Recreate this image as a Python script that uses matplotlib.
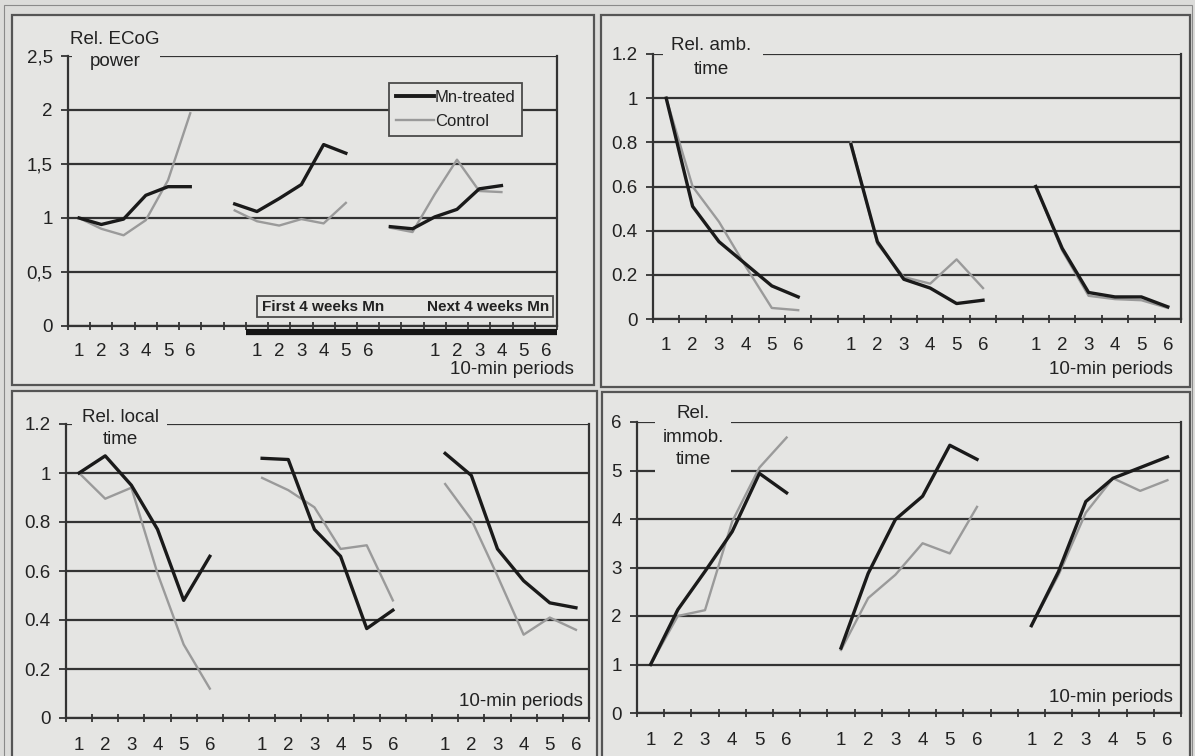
"""Four-panel figure: relative ECoG power and open-field times, Mn-treated vs control.

Each panel shows three sessions of six 10-min periods.
"""
import numpy as np
import matplotlib
matplotlib.use("Agg")
import matplotlib.pyplot as plt
from matplotlib.patches import Rectangle
from matplotlib.lines import Line2D

plt.rcParams["font.family"] = ["Liberation Sans", "DejaVu Sans"]

# ---- data ---------------------------------------------------------------
periods = ["1", "2", "3", "4", "5", "6"]

ecog_mn = [[1.00, 0.94, 0.99, 1.21, 1.29, 1.29],
           [1.13, 1.06, 1.18, 1.31, 1.68, 1.60],
           [0.92, 0.90, 1.01, 1.08, 1.27, 1.30]]
ecog_ctrl = [[1.00, 0.90, 0.84, 0.98, 1.35, 1.97],
             [1.07, 0.97, 0.93, 0.99, 0.95, 1.14],
             [0.91, 0.87, 1.22, 1.54, 1.25, 1.24]]

amb_mn = [[1.00, 0.51, 0.35, 0.25, 0.15, 0.10],
          [0.79, 0.35, 0.18, 0.14, 0.07, 0.085],
          [0.60, 0.32, 0.12, 0.10, 0.10, 0.055]]
amb_ctrl = [[1.00, 0.60, 0.44, 0.24, 0.05, 0.04],
            [0.80, 0.34, 0.19, 0.16, 0.27, 0.14],
            [0.60, 0.31, 0.105, 0.09, 0.085, 0.05]]

local_mn = [[1.00, 1.07, 0.95, 0.77, 0.48, 0.66],
            [1.06, 1.055, 0.77, 0.66, 0.365, 0.44],
            [1.08, 0.99, 0.69, 0.56, 0.47, 0.45]]
local_ctrl = [[1.00, 0.895, 0.94, 0.59, 0.30, 0.12],
              [0.98, 0.93, 0.86, 0.69, 0.705, 0.48],
              [0.955, 0.81, 0.58, 0.34, 0.41, 0.36]]

immob_mn = [[1.00, 2.13, 2.92, 3.74, 4.94, 4.54],
            [1.34, 2.88, 3.99, 4.47, 5.52, 5.23],
            [1.80, 2.92, 4.36, 4.84, 5.06, 5.28]]
immob_ctrl = [[1.00, 2.00, 2.12, 3.95, 5.06, 5.68],
              [1.30, 2.37, 2.85, 3.50, 3.29, 4.25],
              [1.80, 2.85, 4.13, 4.84, 4.58, 4.80]]

ecog_yticks = [0, 0.5, 1, 1.5, 2, 2.5]
ecog_yticklabels = ["0", "0,5", "1", "1,5", "2", "2,5"]
time_yticks = [0, 0.2, 0.4, 0.6, 0.8, 1, 1.2]
time_yticklabels = ["0", "0.2", "0.4", "0.6", "0.8", "1", "1.2"]
immob_yticks = [0, 1, 2, 3, 4, 5, 6]
immob_yticklabels = ["0", "1", "2", "3", "4", "5", "6"]

# ---- styling --------------------------------------------------------------
W, H = 1195, 756
FIG_BG = "#dcdcda"
PANEL_BG = "#e5e5e3"
AX_COL = "#333333"
MN_COL = "#1a1a1a"
CTRL_COL = "#9a9a9a"
FS = 13.5

fig = plt.figure(figsize=(W / 100, H / 100), dpi=100, facecolor=FIG_BG)


def frect(x0, y0, x1, y1):
    """pixel box (top-left origin) -> figure fraction rect"""
    return [x0 / W, 1 - y1 / H, (x1 - x0) / W, (y1 - y0) / H]


def box(x0, y0, x1, y1, face=PANEL_BG, edge="none", lw=1.2, z=1):
    l, b, w, h = frect(x0, y0, x1, y1)
    fig.add_artist(Rectangle((l, b), w, h, transform=fig.transFigure,
                             facecolor=face, edgecolor=edge, lw=lw, zorder=z))


def ftext(x, y, s, **kw):
    kw.setdefault("fontsize", FS)
    kw.setdefault("color", "#222222")
    fig.text(x / W, 1 - y / H, s, zorder=3, **kw)


# outer dotted frame and panel frames
box(4, 5, 1192, 770, face="none", edge="#8a8a8a", lw=0.8, z=-3)
box(12, 15, 594, 385, edge="#555555", lw=1.6, z=-2)
box(601, 15, 1190, 387, edge="#555555", lw=1.6, z=-2)
box(12, 391, 597, 770, edge="#555555", lw=1.6, z=-2)
box(602, 392, 1190, 770, edge="#555555", lw=1.6, z=-2)


def make_panel(rect_px, ncat, starts, label_pos, mn, ctrl, yticks, ylabels, pad=12):
    ax = fig.add_axes(frect(*rect_px))
    ax.set_facecolor("none")
    for g, s in enumerate(starts):
        x = np.arange(s, s + len(mn[g])) + 0.5
        ax.plot(x, ctrl[g], color=CTRL_COL, lw=1.7, zorder=3)
        ax.plot(x, mn[g], color=MN_COL, lw=2.4, zorder=4)
    ax.set_xlim(0, ncat)
    ax.set_ylim(yticks[0], yticks[-1])
    ax.set_yticks(yticks)
    ax.set_yticklabels(ylabels)
    ax.set_xticks(np.arange(ncat + 1), minor=True)
    ax.set_xticks(np.array(label_pos) + 0.5)
    ax.set_xticklabels(periods * 3)
    ax.tick_params(axis="x", which="major", length=0, pad=pad,
                   labelsize=FS, labelcolor="#222222")
    ax.tick_params(axis="x", which="minor", length=6, direction="inout",
                   width=1.3, color=AX_COL)
    ax.tick_params(axis="y", length=5, direction="out", width=1.3,
                   color=AX_COL, pad=6, labelsize=FS, labelcolor="#222222")
    ax.yaxis.grid(True, color=AX_COL, lw=1.6)
    ax.set_axisbelow(True)
    for side in ("left", "bottom", "right"):
        ax.spines[side].set_color(AX_COL)
        ax.spines[side].set_linewidth(1.6)
    ax.spines["top"].set_visible(False)
    return ax


six = list(range(6))
grp_starts = [0, 7, 14]
labels20 = six + [7 + i for i in six] + [14 + i for i in six]
labels22 = six + [8 + i for i in six] + [16 + i for i in six]

# top-left: ECoG power
ax1 = make_panel((68, 56, 557, 326), 22, grp_starts, labels22,
                 ecog_mn, ecog_ctrl, ecog_yticks, ecog_yticklabels, pad=12)
ax1.plot([8, 22], [-0.022, -0.022], transform=ax1.get_xaxis_transform(),
         color="#151515", lw=4.5, clip_on=False, solid_capstyle="butt", zorder=5)
handles = [Line2D([], [], color=MN_COL, lw=2.8), Line2D([], [], color=CTRL_COL, lw=1.7)]
leg = ax1.legend(handles, ["Mn-treated", "Control"], loc="upper left",
                 bbox_to_anchor=(389 / W, 1 - 83 / H), bbox_transform=fig.transFigure,
                 borderaxespad=0, fancybox=False, framealpha=1, facecolor=PANEL_BG,
                 edgecolor="#4a4a4a", fontsize=12, handlelength=2.3,
                 handletextpad=0.05, labelspacing=0.55, borderpad=0.4)
leg.get_frame().set_linewidth(1.3)
for t in leg.get_texts():
    t.set_color("#222222")
box(257, 296, 553, 317, edge="#4a4a4a", lw=1.3, z=1)
narrow = ["Liberation Sans Narrow", "Liberation Sans", "DejaVu Sans"]
ftext(262, 307, "First 4 weeks Mn", fontsize=11, fontweight="bold", va="center",
      family=narrow)
ftext(427, 307, "Next 4 weeks Mn", fontsize=11, fontweight="bold", va="center",
      family=narrow)
box(72, 26, 160, 74)
ftext(115, 39, "Rel. ECoG", ha="center", va="center")
ftext(115, 62, "power", ha="center", va="center")
ftext(574, 370, "10-min periods", ha="right", va="center")

# top-right: ambulatory time
ax2 = make_panel((653, 54, 1181, 319), 20, grp_starts, labels20,
                 amb_mn, amb_ctrl, time_yticks, time_yticklabels, pad=13)
box(663, 30, 763, 82)
ftext(711, 46, "Rel. amb.", ha="center", va="center")
ftext(711, 69, "time", ha="center", va="center")
ftext(1173, 370, "10-min periods", ha="right", va="center")

# bottom-left: local time
ax3 = make_panel((66, 424, 589, 718), 20, grp_starts, labels20,
                 local_mn, local_ctrl, time_yticks, time_yticklabels, pad=14)
box(72, 402, 167, 452)
ftext(120, 417, "Rel. local", ha="center", va="center")
ftext(120, 439, "time", ha="center", va="center")
ftext(583, 701, "10-min periods", ha="right", va="center")

# bottom-right: immobility time
ax4 = make_panel((637, 422, 1181, 713), 20, grp_starts, labels20,
                 immob_mn, immob_ctrl, immob_yticks, immob_yticklabels, pad=14)
box(655, 398, 731, 478)
ftext(693, 413, "Rel.", ha="center", va="center")
ftext(693, 437, "immob.", ha="center", va="center")
ftext(693, 460, "time", ha="center", va="center")
ftext(1173, 698, "10-min periods", ha="right", va="center")

fig.savefig("out.png", dpi=100, facecolor=FIG_BG)
